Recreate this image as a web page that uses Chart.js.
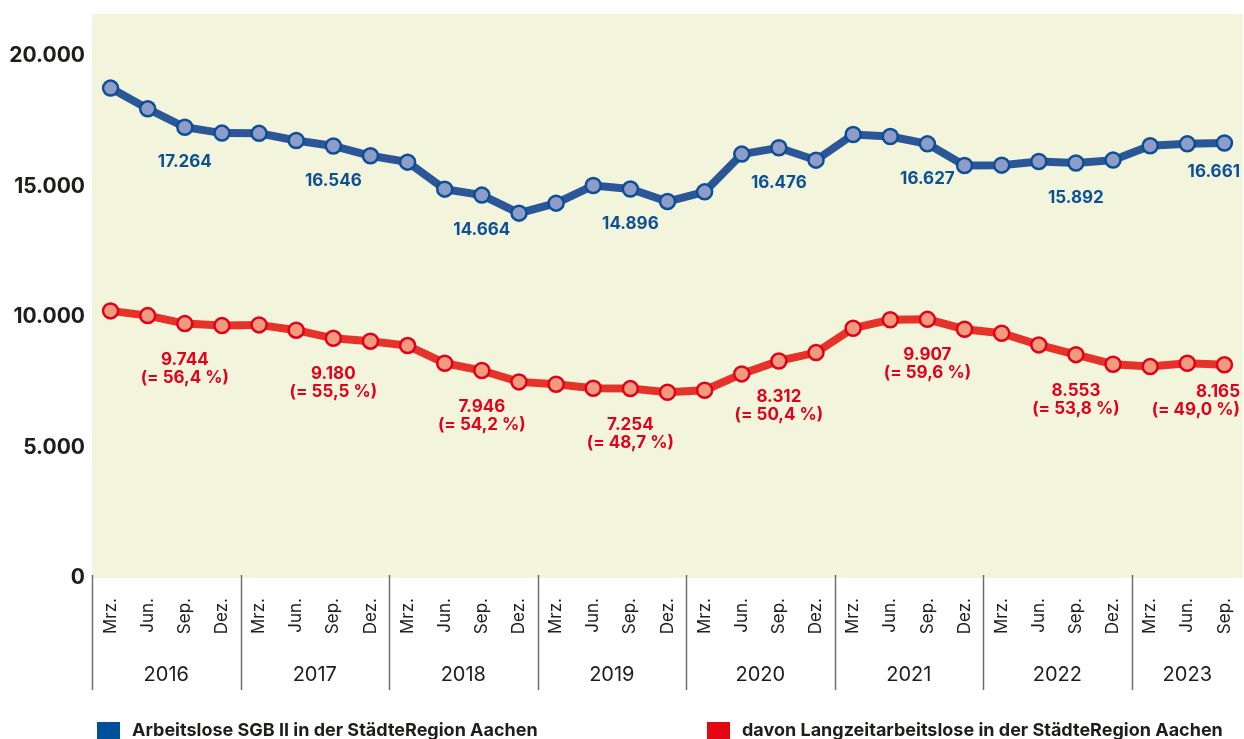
<!DOCTYPE html>
<html>
<head>
<meta charset="utf-8">
<script src="https://cdn.jsdelivr.net/npm/chart.js@4/dist/chart.umd.min.js"></script>
<style>
  html, body { margin: 0; padding: 0; background: #fff; }
  #wrap { width: 1244px; height: 739px; position: relative; }
</style>
</head>
<body>
<div id="wrap"><canvas id="chart" width="1244" height="739"></canvas></div>
<script>
// quarter labels, Mrz. 2016 .. Sep. 2023
const months = [
  "Mrz.", "Jun.", "Sep.", "Dez.",
  "Mrz.", "Jun.", "Sep.", "Dez.",
  "Mrz.", "Jun.", "Sep.", "Dez.",
  "Mrz.", "Jun.", "Sep.", "Dez.",
  "Mrz.", "Jun.", "Sep.", "Dez.",
  "Mrz.", "Jun.", "Sep.", "Dez.",
  "Mrz.", "Jun.", "Sep.", "Dez.",
  "Mrz.", "Jun.", "Sep."
];
const years = ["2016", "2017", "2018", "2019", "2020", "2021", "2022", "2023"];
const yTicks = [0, 5000, 10000, 15000, 20000];

const arbeitslose = [
  18763, 17969, 17264, 17038,
  17030, 16755, 16546, 16169,
  15927, 14893, 14664, 13973,
  14356, 15031, 14896, 14418,
  14789, 16234, 16476, 16002,
  16985, 16908, 16627, 15798,
  15810, 15950, 15892, 16004,
  16552, 16628, 16661
];
const langzeit = [
  10230, 10050, 9744, 9667,
  9693, 9490, 9180, 9069,
  8902, 8225, 7946, 7510,
  7420, 7267, 7254, 7114,
  7190, 7816, 8312, 8633,
  9566, 9890, 9907, 9528,
  9375, 8927, 8553, 8187,
  8096, 8225, 8165
];
// labelled points (September of each year) and the long-term share
const labelIdx = [2, 6, 10, 14, 18, 22, 26, 30];
const anteil = ["56,4", "55,5", "54,2", "48,7", "50,4", "59,6", "53,8", "49,0"];

const FONT = "Inter, 'Liberation Sans', Arial, sans-serif";
const BLUE = "#2b5697";
const BLUE_DARK = "#0c4f95";
const RED = "#e6332a";
const RED_DARK = "#e2001a";

const fmt = (v) => String(v).replace(/\B(?=(\d{3})+(?!\d))/g, ".");

const bgPlugin = {
  id: "bg",
  beforeDraw(chart) {
    const { ctx, chartArea: a } = chart;
    ctx.save();
    ctx.fillStyle = "#ffffff";
    ctx.fillRect(0, 0, chart.width, chart.height);
    ctx.fillStyle = "#f2f5dc";
    ctx.fillRect(a.left, a.top, a.right - a.left, a.bottom - a.top);
    ctx.restore();
  }
};

const yearPlugin = {
  id: "years",
  afterDraw(chart) {
    const { ctx, chartArea: a } = chart;
    const x = chart.scales.x;
    const half = (x.getPixelForValue(1) - x.getPixelForValue(0)) / 2;
    ctx.save();
    ctx.strokeStyle = "#6f6f6f";
    ctx.lineWidth = 1.5;
    ctx.fillStyle = "#1d1d1b";
    ctx.font = "20px " + FONT;
    ctx.textAlign = "center";
    ctx.textBaseline = "middle";
    years.forEach((y, k) => {
      const left = x.getPixelForValue(4 * k) - half;
      const last = Math.min(4 * k + 3, months.length - 1);
      const right = x.getPixelForValue(last) + half;
      ctx.beginPath();
      ctx.moveTo(Math.round(left) + 0.5, a.bottom - 3);
      ctx.lineTo(Math.round(left) + 0.5, a.bottom + 112);
      ctx.stroke();
      ctx.fillText(y, (left + right) / 2, a.bottom + 97);
    });
    ctx.restore();
  }
};

const valuePlugin = {
  id: "values",
  afterDatasetsDraw(chart) {
    const { ctx, chartArea: a } = chart;
    ctx.save();
    ctx.font = "bold 17px " + FONT;
    ctx.textBaseline = "middle";
    const blue = chart.getDatasetMeta(0).data;
    const red = chart.getDatasetMeta(1).data;
    labelIdx.forEach((i, n) => {
      const lastOne = i === months.length - 1;
      const bx = lastOne ? a.right - 3 : blue[i].x;
      ctx.textAlign = lastOne ? "right" : "center";
      ctx.fillStyle = BLUE_DARK;
      ctx.fillText(fmt(arbeitslose[i]), bx, blue[i].y + (lastOne ? 29 : 35));
      ctx.fillStyle = RED_DARK;
      const ry = red[i].y + (lastOne ? 27 : 36);
      ctx.fillText(fmt(langzeit[i]), bx, ry);
      ctx.fillText("(= " + anteil[n] + " %)", bx, ry + 18);
    });
    ctx.restore();
  }
};

const legendPlugin = {
  id: "legendRow",
  afterDraw(chart) {
    const { ctx } = chart;
    const items = [
      { x: 97, color: "#004f9a", text: chart.data.datasets[0].label },
      { x: 707, color: "#e30613", text: chart.data.datasets[1].label }
    ];
    ctx.save();
    ctx.font = "bold 18px " + FONT;
    ctx.textBaseline = "middle";
    ctx.textAlign = "left";
    items.forEach((it) => {
      ctx.fillStyle = it.color;
      ctx.fillRect(it.x, 722, 23, 20);
      ctx.fillStyle = "#1d1d1b";
      ctx.fillText(it.text, it.x + 35, 731);
    });
    ctx.restore();
  }
};

new Chart(document.getElementById("chart"), {
  type: "line",
  data: {
    labels: months,
    datasets: [
      {
        label: "Arbeitslose SGB II in der StädteRegion Aachen",
        data: arbeitslose,
        borderColor: BLUE,
        borderWidth: 8,
        pointRadius: 7.5,
        pointBorderWidth: 2.5,
        pointBackgroundColor: "#8e9cc9",
        pointBorderColor: BLUE_DARK,
        tension: 0
      },
      {
        label: "davon Langzeitarbeitslose in der StädteRegion Aachen",
        data: langzeit,
        borderColor: RED,
        borderWidth: 8,
        pointRadius: 7.5,
        pointBorderWidth: 2.5,
        pointBackgroundColor: "#f19b7e",
        pointBorderColor: RED_DARK,
        tension: 0
      }
    ]
  },
  options: {
    responsive: false,
    animation: false,
    layout: { autoPadding: false, padding: { top: 14, right: 1, left: 0, bottom: 0 } },
    plugins: {
      legend: { display: false },
      tooltip: { enabled: false }
    },
    scales: {
      x: {
        offset: true,
        grid: { display: false, drawTicks: false },
        border: { display: false },
        ticks: {
          minRotation: 90,
          maxRotation: 90,
          autoSkip: false,
          padding: 20,
          color: "#1d1d1b",
          font: { family: FONT, size: 17 }
        },
        afterFit(s) {
          s.height = 161;
          s.paddingLeft = 0;
          s.paddingRight = 0;
        }
      },
      y: {
        min: 0,
        max: 21600,
        grid: { display: false, drawTicks: false },
        border: { display: false },
        afterBuildTicks(s) { s.ticks = yTicks.map((v) => ({ value: v })); },
        ticks: {
          padding: 7,
          color: "#1d1d1b",
          font: { family: FONT, size: 21, weight: "bold" },
          callback: (v) => fmt(v)
        },
        afterFit(s) {
          s.width = 92;
          s.paddingTop = 0;
          s.paddingBottom = 0;
        }
      }
    }
  },
  plugins: [bgPlugin, yearPlugin, valuePlugin, legendPlugin]
});
</script>
</body>
</html>
